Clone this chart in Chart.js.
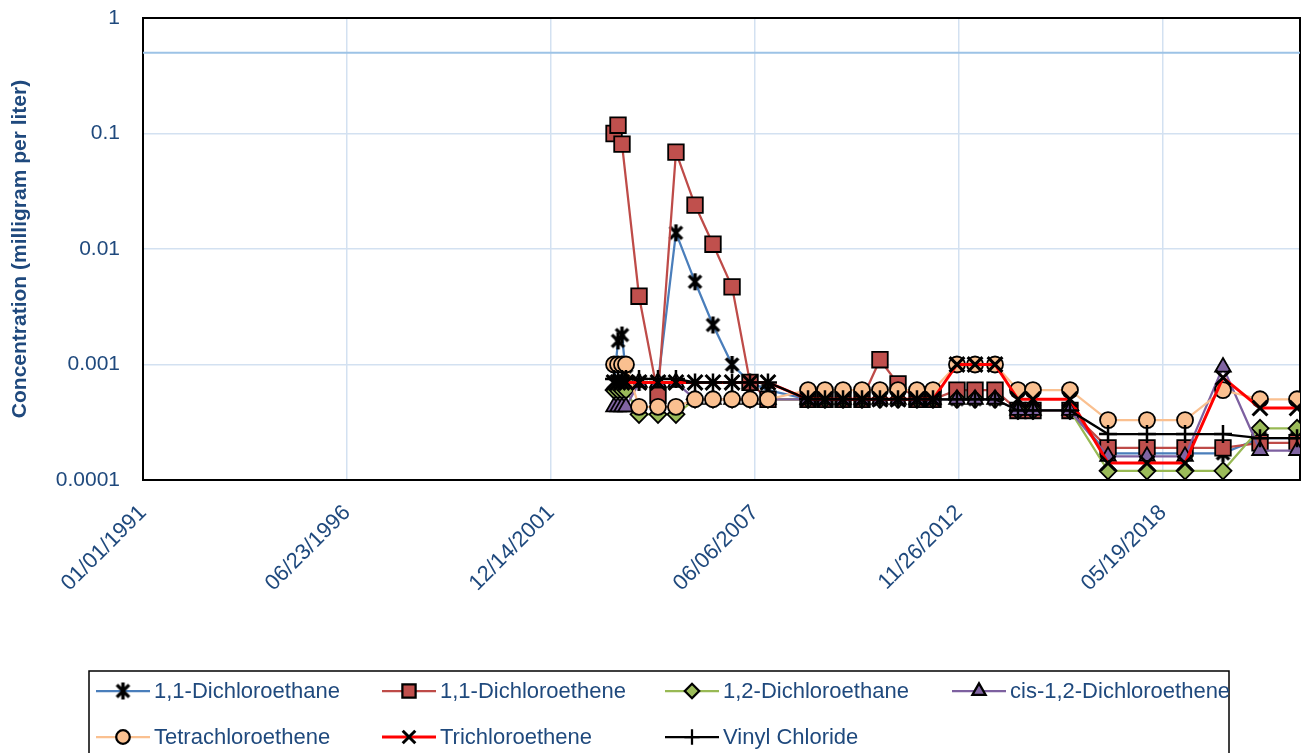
<!DOCTYPE html>
<html>
<head>
<meta charset="utf-8">
<script src="https://cdn.jsdelivr.net/npm/chart.js"></script>
<style>
  html, body { margin: 0; padding: 0; background: #fff; }
  #wrap { width: 1301px; height: 753px; position: relative; }
</style>
</head>
<body>
<div id="wrap"><canvas id="chart" width="1301" height="753"></canvas></div>
<script>
// sample dates (MM/DD/YYYY axis, values in mg/L)
const sampleDates = [
  '2003-08-24', '2003-10-02', '2003-11-10', '2003-12-19', '2004-04-25', '2004-10-28',
  '2005-04-22', '2005-10-26', '2006-04-20', '2006-10-24', '2007-04-18', '2007-10-11',
  '2008-11-07', '2009-04-22', '2009-10-16', '2010-04-20', '2010-10-13', '2011-04-08',
  '2011-10-11', '2012-03-16', '2012-11-06', '2013-05-02', '2013-11-14', '2014-06-27',
  '2014-11-21', '2015-11-19', '2016-11-26', '2017-12-13', '2018-12-21', '2019-12-28',
  '2020-12-25', '2021-12-23',
];

const dichloroethane11 = [
  0.0007, 0.0016, 0.0018, 0.0008, 0.0007, 0.0007, 0.0138, 0.0052, 0.0022, 0.001, 0.0007, 0.0006,
  0.0005, 0.0005, 0.0005, 0.0005, 0.0005, 0.0005, 0.0005, 0.0005, 0.0005, 0.0005, 0.0005, 0.0004,
  0.0004, 0.0004, 0.00017, 0.00017, 0.00017, 0.00017, 0.00023, 0.00023,
];
const dichloroethene11 = [
  0.1, 0.118, 0.081, null, 0.0039, 0.00054, 0.069, 0.024, 0.011, 0.0047, 0.0007, 0.0005,
  0.0005, 0.0005, 0.0005, 0.0005, 0.0011, 0.00068, 0.0005, 0.0005, 0.0006, 0.0006, 0.0006, 0.0004,
  0.0004, 0.0004, 0.00019, 0.00019, 0.00019, 0.00019, 0.00021, 0.00021,
];
const dichloroethane12 = [
  0.0006, 0.0006, 0.0006, 0.0006, 0.00037, 0.00037, 0.00037, 0.0005, 0.0005, 0.0005, 0.0005, 0.0005,
  0.0005, 0.0005, 0.0005, 0.0005, 0.0005, 0.0005, 0.0005, 0.0005, 0.0005, 0.0005, 0.0005, 0.0004,
  0.0004, 0.0004, 0.00012, 0.00012, 0.00012, 0.00012, 0.00028, 0.00028,
];
const cisDichloroethene12 = [
  0.00043, 0.00043, 0.00043, 0.00043, 0.0007, 0.0007, 0.0007, 0.0005, 0.0005, 0.0005, 0.0005, 0.0005,
  0.0005, 0.0005, 0.0005, 0.0005, 0.0005, 0.0005, 0.0005, 0.0005, 0.0005, 0.0005, 0.0005, 0.0004,
  0.0004, 0.0004, 0.00016, 0.00016, 0.00016, 0.00095, 0.00018, 0.00018,
];
const tetrachloroethene = [
  0.001, 0.001, 0.001, 0.001, 0.00043, 0.00043, 0.00043, 0.0005, 0.0005, 0.0005, 0.0005, 0.0005,
  0.0006, 0.0006, 0.0006, 0.0006, 0.0006, 0.0006, 0.0006, 0.0006, 0.001, 0.001, 0.001, 0.0006,
  0.0006, 0.0006, 0.00033, 0.00033, 0.00033, 0.0006, 0.0005, 0.0005,
];
const trichloroethene = [
  0.0007, 0.0007, 0.0007, 0.0007, 0.0007, 0.0007, 0.0007, 0.0007, 0.0007, 0.0007, 0.0007, 0.0007,
  0.0005, 0.0005, 0.0005, 0.0005, 0.0005, 0.0005, 0.0005, 0.0005, 0.001, 0.001, 0.001, 0.0005,
  0.0005, 0.0005, 0.00014, 0.00014, 0.00014, 0.00077, 0.00042, 0.00042,
];
const vinylChloride = [
  0.00075, 0.00075, 0.00075, 0.00075, 0.00075, 0.00075, 0.00075, 0.0007, 0.0007, 0.0007, 0.0007, 0.0007,
  0.0005, 0.0005, 0.0005, 0.0005, 0.0005, 0.0005, 0.0005, 0.0005, 0.0005, 0.0005, 0.0005, 0.0004,
  0.0004, 0.0004, 0.00025, 0.00025, 0.00025, 0.00025, 0.00023, 0.00023,
];

const seriesNames = [
  '1,1-Dichloroethane', '1,1-Dichloroethene', '1,2-Dichloroethane', 'cis-1,2-Dichloroethene',
  'Tetrachloroethene', 'Trichloroethene', 'Vinyl Chloride',
];
const seriesValues = [
  dichloroethane11, dichloroethene11, dichloroethane12, cisDichloroethene12,
  tetrachloroethene, trichloroethene, vinylChloride,
];

const limitValue = 0.5;
const yTickValues = [0.0001, 0.001, 0.01, 0.1, 1];
const xTickDays = [0, 2000, 4000, 6000, 8000, 10000];
const axisEndDays = 11343;

const EPOCH = Date.UTC(1991, 0, 1);
const DAY = 86400000;
const toDays = s => (Date.parse(s + 'T00:00:00Z') - EPOCH) / DAY;
const pad = n => String(n).padStart(2, '0');
const fmtDate = v => {
  const d = new Date(EPOCH + v * DAY);
  return pad(d.getUTCMonth() + 1) + '/' + pad(d.getUTCDate()) + '/' + d.getUTCFullYear();
};

const FONT = "'Liberation Sans', Arial, sans-serif";
const TEXT_COLOR = '#1F497D';
const GRID_COLOR = '#D3E1F1';

// excel style "star" marker: X plus vertical bar
const starMarker = (size, lw) => {
  const c = document.createElement('canvas');
  c.width = c.height = size;
  const g = c.getContext('2d');
  const h = size / 2, r = size / 2 - 1, d = r * 0.72;
  g.strokeStyle = '#000';
  g.lineWidth = lw;
  g.beginPath();
  g.moveTo(h - d, h - d); g.lineTo(h + d, h + d);
  g.moveTo(h + d, h - d); g.lineTo(h - d, h + d);
  g.moveTo(h, h - r); g.lineTo(h, h + r);
  g.stroke();
  return c;
};

const STYLES = [
  { line: '#4A7EBB', width: 2.25, point: starMarker(19, 3.4), radius: 9, fill: '#000', border: '#000', bw: 0 },
  { line: '#BE4B48', width: 2.25, point: 'rect', radius: 11, fill: '#C0504D', border: '#000', bw: 1.8 },
  { line: '#98B954', width: 2.25, point: 'rectRot', radius: 8.5, fill: '#9BBB59', border: '#000', bw: 1.8 },
  { line: '#7D60A0', width: 2.25, point: 'triangle', radius: 9, fill: '#8064A2', border: '#000', bw: 1.8 },
  { line: '#FAC090', width: 2.25, point: 'circle', radius: 8, fill: '#FAC090', border: '#000', bw: 1.8 },
  { line: '#FF0000', width: 3, point: 'crossRot', radius: 10.5, fill: '#000', border: '#000', bw: 3 },
  { line: '#000000', width: 2.25, point: 'cross', radius: 9, fill: '#000', border: '#000', bw: 2.5 },
];

const days = sampleDates.map(toDays);

const datasets = seriesNames.map((name, i) => {
  const s = STYLES[i];
  return {
    label: name,
    data: days.map((d, k) => ({ x: d, y: seriesValues[i][k] })),
    borderColor: s.line,
    borderWidth: s.width,
    pointStyle: s.point,
    pointRadius: s.radius,
    pointBackgroundColor: s.fill,
    pointBorderColor: s.border,
    pointBorderWidth: s.bw,
    spanGaps: true,
    tension: 0,
    order: 10 - i,
  };
});

datasets.push({
  label: 'limit',
  data: [{ x: 0, y: limitValue }, { x: axisEndDays, y: limitValue }],
  borderColor: '#9DC3E6',
  borderWidth: 2,
  pointRadius: 0,
  order: 20,
});

// legend box in the style of the excel original
const boxLegend = {
  id: 'boxLegend',
  afterDraw(chart) {
    const ctx = chart.ctx;
    const cols = [96, 382, 665, 952];
    const rows = [691, 737];
    ctx.save();
    ctx.strokeStyle = '#000';
    ctx.lineWidth = 1.5;
    ctx.strokeRect(89, 671, 1140, 100);
    ctx.font = '22px ' + FONT;
    ctx.textBaseline = 'middle';
    seriesNames.forEach((name, i) => {
      const s = STYLES[i];
      const x0 = cols[i % 4], y = rows[Math.floor(i / 4)];
      ctx.strokeStyle = s.line;
      ctx.lineWidth = s.width;
      ctx.beginPath();
      ctx.moveTo(x0, y);
      ctx.lineTo(x0 + 54, y);
      ctx.stroke();
      ctx.fillStyle = s.fill;
      ctx.strokeStyle = s.border;
      Chart.helpers.drawPoint(ctx, {
        pointStyle: s.point,
        radius: s.radius * 0.85,
        borderWidth: s.bw,
        rotation: 0,
      }, x0 + 27, y);
      ctx.fillStyle = TEXT_COLOR;
      ctx.fillText(name, x0 + 58, y + 1);
    });
    ctx.restore();
  },
};

const plotFrame = {
  id: 'plotFrame',
  beforeDatasetsDraw(chart) {
    const { left, top, right, bottom } = chart.chartArea;
    const ctx = chart.ctx;
    ctx.save();
    ctx.strokeStyle = '#000';
    ctx.lineWidth = 2;
    ctx.strokeRect(left, top, right - left, bottom - top);
    ctx.restore();
  },
};

new Chart(document.getElementById('chart'), {
  type: 'line',
  data: { datasets },
  plugins: [plotFrame, boxLegend],
  options: {
    responsive: false,
    animation: false,
    devicePixelRatio: 1,
    layout: { autoPadding: false, padding: { top: 18, right: 1, left: 0, bottom: 0 } },
    plugins: {
      legend: { display: false },
      tooltip: { enabled: false },
    },
    scales: {
      x: {
        type: 'linear',
        min: 0,
        max: axisEndDays,
        afterBuildTicks: scale => { scale.ticks = xTickDays.map(v => ({ value: v })); },
        afterFit: scale => {
          scale.height = 273;
          scale.paddingLeft = 0;
          scale.paddingRight = 0;
        },
        border: { display: false },
        grid: { color: GRID_COLOR, lineWidth: 1.5, drawTicks: false },
        ticks: {
          autoSkip: false,
          minRotation: 45,
          maxRotation: 45,
          padding: 20,
          color: TEXT_COLOR,
          font: { family: FONT, size: 22 },
          callback: v => fmtDate(v),
        },
      },
      y: {
        type: 'logarithmic',
        min: 0.0001,
        max: 1,
        afterBuildTicks: scale => { scale.ticks = yTickValues.map(v => ({ value: v })); },
        afterFit: scale => {
          scale.width = 143;
          scale.paddingTop = 0;
          scale.paddingBottom = 0;
        },
        border: { display: false },
        grid: { color: GRID_COLOR, lineWidth: 1.5, drawTicks: false },
        ticks: {
          padding: 23,
          color: TEXT_COLOR,
          font: { family: FONT, size: 21 },
          callback: v => String(v),
        },
        title: {
          display: true,
          text: 'Concentration (milligram per liter)',
          color: TEXT_COLOR,
          font: { family: FONT, size: 21, weight: 'bold' },
          padding: { top: 8, bottom: 0 },
        },
      },
    },
  },
});
</script>
</body>
</html>
